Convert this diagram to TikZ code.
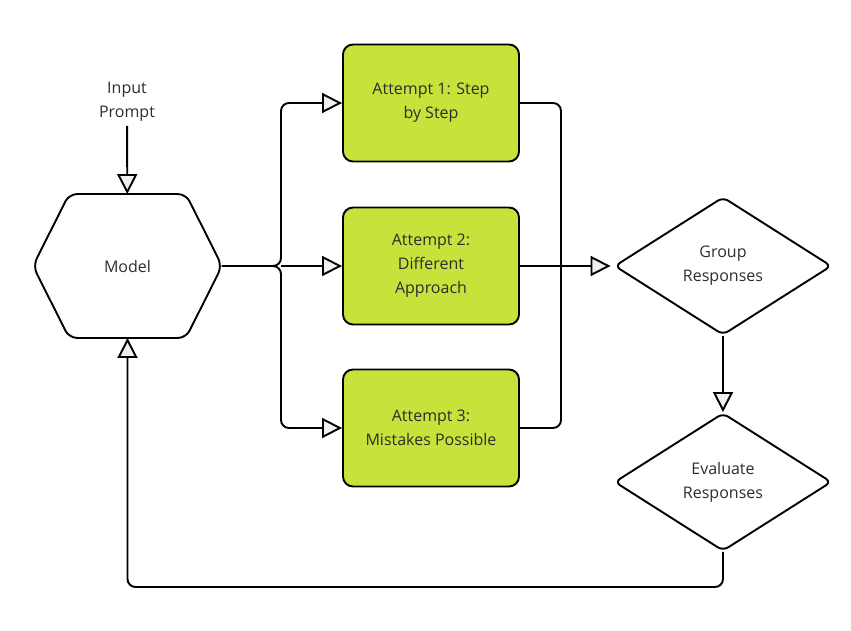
\documentclass[tikz,border=0pt]{standalone}
\usepackage{fontspec}
\setmainfont{Open Sans}
\usetikzlibrary{arrows.meta,shapes.geometric}
\definecolor{lime}{RGB}{200,226,60}
\definecolor{txt}{RGB}{45,45,45}
\begin{document}
\begin{tikzpicture}[x = 1pt, y = -1pt, line width = 1.9pt,
	font = \fontsize{16}{24}\selectfont,
	attempt/.style = {draw, fill = lime, rounded corners = 10pt, minimum width = 176pt, minimum height = 117pt, align = center, text = txt},
	decision/.style = {diamond, draw, rounded corners = 6pt, minimum width = 217pt, minimum height = 138pt, aspect = 1.57, inner sep = 0pt, align = center, text = txt},
	arr/.style = {-{Triangle[length = 20pt, width = 20pt, fill = gray!12]}},
	link/.style = {rounded corners = 8pt}]
						\useasboundingbox (0,0) rectangle (851,631);
						\coordinate (split) at (281,266);
						\coordinate (join) at (561,266);
						\coordinate (loop) at (400,587);
						\node[text = txt, align = center] (input) at (127,102) {Input\\Prompt};
						\node[minimum width = 187pt, minimum height = 142pt, inner sep = 0pt, text = txt] (model) at (127.5,266) {Model};
						\draw[rounded corners = 8pt] (model.west) -- ([xshift = 36pt]model.north west) -- ([xshift = -36pt]model.north east) -- (model.east) -- ([xshift = -36pt]model.south east) -- ([xshift = 36pt]model.south west) -- cycle;
						\node[attempt] (att1) at (431,103) {Attempt 1: Step\\by Step};
						\node[attempt] (att2) at (431,266) {Attempt 2:\\Different\\Approach};
						\node[attempt] (att3) at (431,428) {Attempt 3:\\Mistakes Possible};
						\node[decision] (group) at (723,266) {Group\\Responses};
						\node[decision] (eval) at (723,482) {Evaluate\\Responses};
						% arrows
						\draw[arr] (input) -- (model);
						\draw[link, arr] (model.east) -- (split) |- (att1);
						\draw[arr] (split) -- (att2);
						\draw[link, arr] (model.east) -- (split) |- (att3);
						\draw[link] (att1) -| (join);
						\draw[link] (att3) -| (join);
						\draw[arr, shorten > = 3pt] (att2) -- (group);
						\draw[arr] (group) -- (eval);
						\draw[link, arr] (eval) |- (loop) -| (model);
					\end{tikzpicture}
\end{document}
